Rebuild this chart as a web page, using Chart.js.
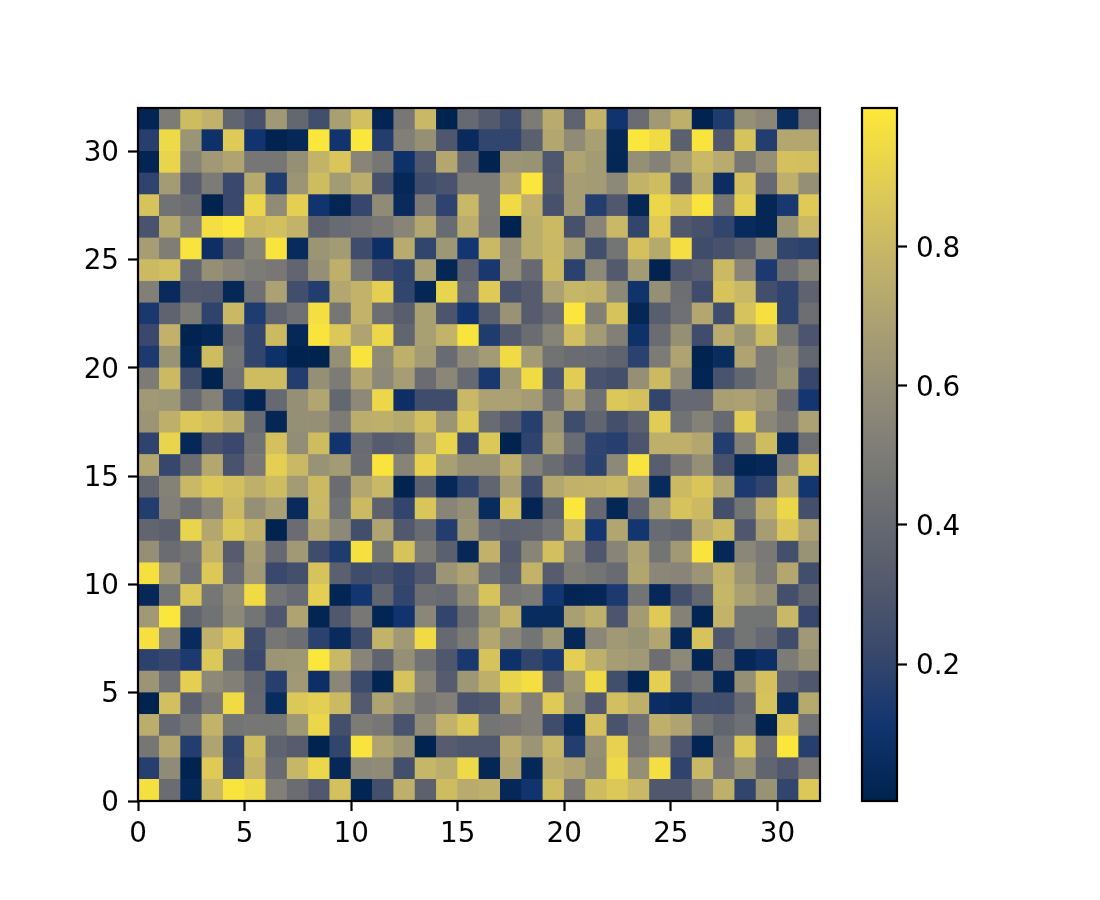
<!DOCTYPE html>
<html>
<head>
<meta charset="utf-8">
<script src="https://cdn.jsdelivr.net/npm/chart.js@4"></script>
<style>
html,body{margin:0;padding:0;background:#fff;width:1100px;height:900px;overflow:hidden}
canvas{position:absolute;top:0}
#main{left:0}
#bar{left:850px}
</style>
</head>
<body>
<div style="position:absolute;left:0;top:0;width:850px;height:900px"><canvas id="main" width="850" height="900"></canvas></div>
<div style="position:absolute;left:850px;top:0;width:250px;height:900px"><canvas id="bar" style="left:0" width="250" height="900"></canvas></div>
<script>
const row31=[2,50,82,77,38,27,65,39,25,68,83,2,48,80,1,40,32,23,50,74,37,78,11,42,65,76,1,15,60,56,6,42];
const row30=[17,94,63,9,88,11,1,4,99,11,99,16,52,60,30,5,20,20,35,72,58,68,4,99,95,35,98,31,85,16,72,72];
const row29=[2,92,55,65,70,47,47,60,78,86,55,47,9,30,72,38,1,63,62,30,70,66,3,60,53,67,80,74,47,60,84,83];
const row28=[19,66,34,50,22,73,15,63,82,66,75,27,4,24,28,50,50,72,99,32,67,66,57,78,82,31,75,7,83,40,76,60];
const row27=[85,45,42,1,22,93,58,90,11,2,21,58,5,49,19,80,50,95,77,27,67,16,31,3,93,84,98,46,90,3,13,88];
const row26=[28,73,52,96,99,81,83,78,36,41,44,48,55,72,41,75,49,1,75,81,27,55,80,20,88,31,27,20,5,3,62,80];
const row25=[67,51,98,8,34,54,98,5,63,66,24,8,74,20,64,12,80,58,75,80,66,25,46,84,73,96,24,27,34,55,20,18];
const row24=[81,83,38,60,55,50,48,38,60,76,47,24,19,68,3,37,13,59,40,81,18,57,32,66,1,30,34,81,55,14,43,54];
const row23=[52,5,32,31,4,44,69,25,16,72,78,90,20,3,92,41,88,28,33,69,79,78,57,10,60,43,24,85,80,25,19,37];
const row22=[13,37,50,19,80,15,37,44,96,47,78,43,34,68,29,11,34,62,33,42,99,52,85,3,34,44,72,24,85,97,19,43];
const row21=[22,77,1,3,42,20,81,4,98,87,70,93,38,68,78,98,15,32,42,54,83,66,52,9,42,60,24,74,63,82,47,29];
const row20=[14,62,4,82,46,20,9,1,1,60,98,58,76,66,41,58,66,95,66,45,42,41,37,18,50,70,1,6,70,50,58,39];
const row19=[50,81,25,1,44,82,82,16,60,50,72,57,67,42,56,40,13,66,95,28,89,28,26,60,81,58,2,28,39,50,62,21];
const row18=[65,64,40,53,20,2,40,60,71,39,57,93,8,24,24,80,69,69,66,44,70,44,87,84,20,40,40,68,69,63,42,12];
const row17=[63,76,87,83,76,41,3,60,60,50,75,76,73,83,63,87,41,32,17,60,24,38,26,35,89,45,53,40,89,56,48,69];
const row16=[19,92,4,27,22,45,84,59,82,11,41,33,35,70,92,21,87,1,19,67,41,19,17,29,76,76,72,16,52,82,5,43];
const row15=[72,21,42,72,28,48,90,80,62,66,42,98,54,91,68,60,60,76,52,42,32,18,57,98,34,48,60,27,2,4,54,85];
const row14=[38,53,80,87,83,76,82,66,81,42,72,80,1,35,4,20,38,67,23,72,77,78,80,69,5,81,86,71,14,20,78,12];
const row13=[16,52,43,55,81,60,68,5,80,45,81,36,20,86,55,60,6,85,2,35,99,40,3,37,68,85,81,26,46,76,93,26];
const row12=[38,35,92,72,87,78,1,42,71,57,25,70,31,41,16,63,41,37,38,45,82,12,71,12,41,38,74,81,30,67,86,70];
const row11=[60,42,47,78,33,67,40,65,24,15,97,46,85,50,35,4,77,32,55,83,54,30,55,70,46,65,98,4,56,49,26,62];
const row10=[97,65,44,87,40,65,22,26,85,35,24,27,21,31,63,70,44,35,78,33,50,46,41,71,56,55,63,78,63,50,72,25];
const row9=[4,46,87,47,59,95,46,41,90,2,12,38,20,43,41,59,85,47,50,12,2,3,14,46,4,26,39,79,68,60,26,38];
const row8=[65,99,38,45,57,46,30,70,2,31,48,2,11,56,20,42,61,78,6,6,68,76,29,66,88,53,2,78,46,46,80,21];
const row7=[97,58,5,77,88,24,47,43,18,5,24,78,65,95,40,50,72,56,46,64,4,56,65,62,71,4,85,30,46,40,24,65];
const row6=[18,21,14,87,41,22,63,64,99,80,55,37,60,45,30,13,85,9,20,13,90,76,67,65,43,57,2,43,4,8,50,60];
const row5=[63,44,90,57,52,39,17,65,8,56,23,2,85,55,33,64,76,92,96,37,63,95,25,2,90,40,46,3,60,84,37,30];
const row4=[1,83,36,49,95,40,6,87,90,81,32,70,59,48,52,28,30,72,52,88,59,31,83,76,7,5,25,25,40,85,5,73];
const row3=[75,40,47,78,46,47,47,64,93,26,50,47,28,58,77,87,46,48,52,24,5,84,28,44,76,70,45,38,44,1,87,45];
const row2=[47,72,16,70,19,82,37,33,1,20,98,70,63,1,33,30,30,74,63,79,16,60,91,47,58,29,2,45,87,42,99,17];
const row1=[17,58,1,88,21,78,41,79,93,4,57,58,26,79,75,94,3,70,4,75,70,58,94,60,96,19,80,48,62,38,31,49];
const row0=[97,42,4,80,98,94,52,42,31,84,2,26,76,36,82,74,76,4,11,82,49,82,87,80,31,31,52,76,20,62,20,87];
const rows=[row0,row1,row2,row3,row4,row5,row6,row7,row8,row9,row10,row11,row12,row13,row14,row15,row16,row17,row18,row19,row20,row21,row22,row23,row24,row25,row26,row27,row28,row29,row30,row31];

const axisTicks=[0,5,10,15,20,25,30];
const colorbarTicks=[0.2,0.4,0.6,0.8];
const colorMin=0.003, colorMax=0.9997;
const cividis=[[0,34,78],[18,53,112],[59,73,108],[87,93,109],[112,113,115],[138,134,120],[165,156,116],[195,179,105],[225,204,85],[254,232,56]];

function cmap(v){
  const t=Math.max(0,Math.min(1,(v-colorMin)/(colorMax-colorMin)))*(cividis.length-1);
  const i=Math.min(Math.floor(t),cividis.length-2),f=t-i;
  const c=cividis[i].map((a,k)=>Math.round(a+(cividis[i+1][k]-a)*f));
  return `rgb(${c[0]},${c[1]},${c[2]})`;
}
const FONT={family:'"DejaVu Sans"',size:27.8};
const frame={id:'frame',afterDatasetsDraw(ch){
  const a=ch.chartArea,c=ch.ctx;
  c.save();c.strokeStyle='#000';c.lineWidth=2.2;
  c.strokeRect(a.left,a.top,a.right-a.left,a.bottom-a.top);
  c.restore();
}};
const tickAxis=(position,fit,values,fmt,padding,labelOffset)=>({
  type:'linear',position,offset:false,
  border:{display:false},
  grid:{display:true,offset:false,drawOnChartArea:false,drawTicks:true,tickLength:10,tickWidth:2.2,tickColor:'#000',color:'#000'},
  ticks:{color:'#000',font:FONT,padding,labelOffset,autoSkip:false,maxRotation:0,callback:fmt},
  afterBuildTicks(s){s.ticks=values.map(v=>({value:v}));},
  afterFit:fit
});
new Chart(document.getElementById('main'),{
  type:'bar',
  data:{datasets:rows.map((vals,r)=>({
    data:vals.map((v,c)=>({x:c+0.5,y:[r,r+1]})),
    backgroundColor:vals.map(v=>cmap(v/100)),
    barPercentage:1,categoryPercentage:1,grouped:false,borderWidth:0
  }))},
  plugins:[frame],
  options:{
    responsive:false,animation:false,devicePixelRatio:1,
    layout:{padding:{left:0,top:108,right:30,bottom:0}},
    plugins:{legend:{display:false},tooltip:{enabled:false}},
    scales:{
      x:Object.assign(tickAxis('bottom',s=>{s.height=99;},axisTicks,v=>String(v),7,0),{min:0,max:32}),
      y:Object.assign(tickAxis('left',s=>{s.width=138;},axisTicks,v=>String(v),9,2.5),{min:0,max:32})
    }
  }
});
new Chart(document.getElementById('bar'),{
  type:'bar',
  data:{labels:[''],datasets:[{
    data:[[colorMin,colorMax]],
    barPercentage:1,categoryPercentage:1,borderWidth:0,
    backgroundColor(ctx){
      const a=ctx.chart.chartArea;
      if(!a)return '#000';
      const g=ctx.chart.ctx.createLinearGradient(0,a.bottom,0,a.top);
      cividis.forEach((c,i)=>g.addColorStop(i/(cividis.length-1),`rgb(${c[0]},${c[1]},${c[2]})`));
      return g;
    }
  }]},
  plugins:[frame],
  options:{
    responsive:false,animation:false,devicePixelRatio:1,
    layout:{padding:{left:12,top:108,right:0,bottom:99}},
    plugins:{legend:{display:false},tooltip:{enabled:false}},
    scales:{
      x:{type:'category',display:false,offset:true},
      y:Object.assign(tickAxis('right',s=>{s.width=203;},colorbarTicks,v=>v.toFixed(1),9,2.5),{min:colorMin,max:colorMax})
    }
  }
});
</script>
</body>
</html>
